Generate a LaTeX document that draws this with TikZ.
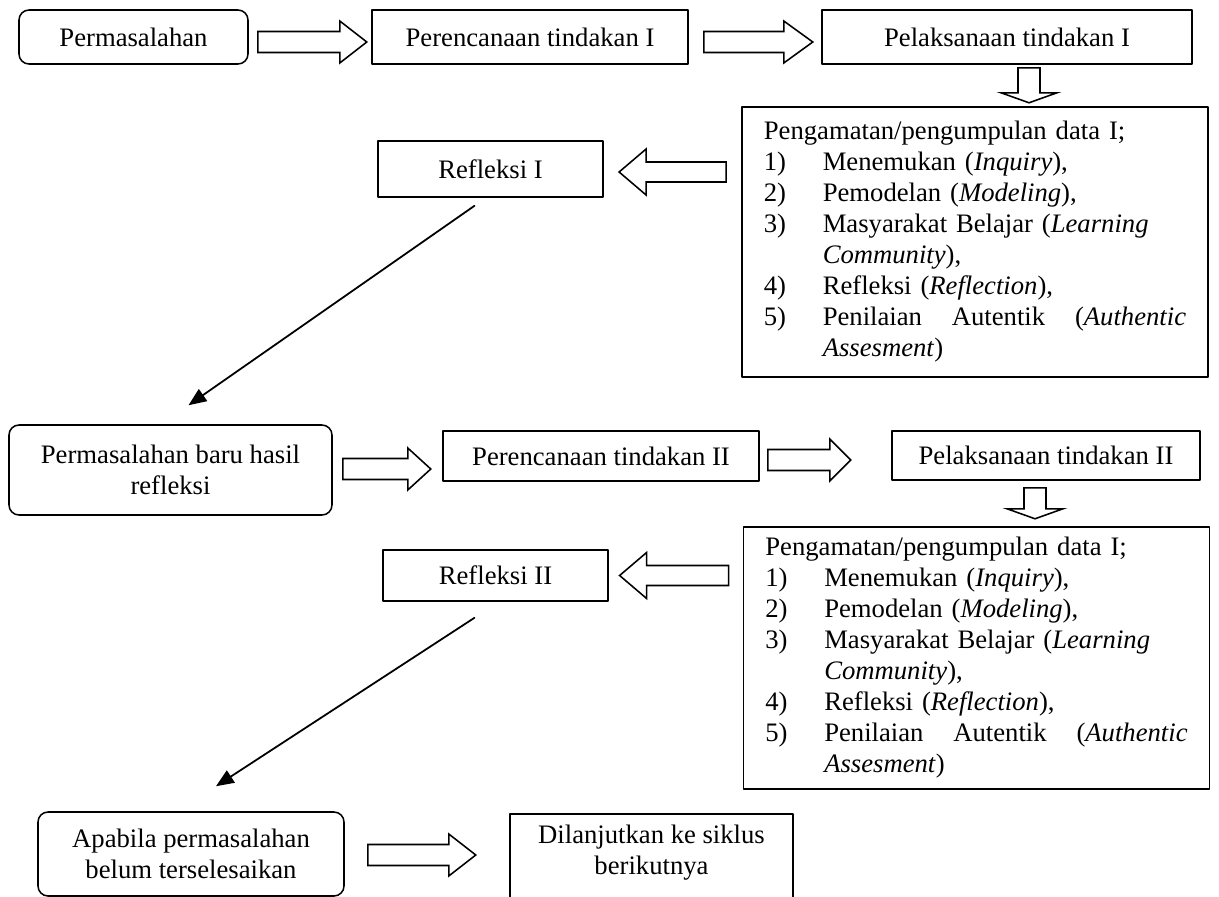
\documentclass[tikz,border=0pt]{standalone}
\usepackage{fontspec}
\setmainfont{Liberation Serif}
\usetikzlibrary{calc,arrows.meta}
\newcommand{\pxl}{0.45pt}
\newcommand{\obsnum}[1]{\makebox[26.5pt][l]{#1}}
\newcommand{\obslist}{Pengamatan/pengumpulan data I;\\
\obsnum{1)}Menemukan (\textit{Inquiry}),\\
\obsnum{2)}Pemodelan (\textit{Modeling}),\\
\obsnum{3)}Masyarakat Belajar (\textit{Learning}\\
\obsnum{}\textit{Community}),\\
\obsnum{4)}Refleksi (\textit{Reflection}),\\
\obsnum{5)}Penilaian\hfill Autentik\hfill (\textit{Authentic}\\
\obsnum{}\textit{Assesment})}
% tail, angle, length, head length, half shaft, half head
\newcommand{\blockarr}[6]{%
\draw[blockline,shift={#1},rotate=#2] (0,-#5) -- (#3-#4,-#5) -- (#3-#4,-#6) -- (#3,0) -- (#3-#4,#6) -- (#3-#4,#5) -- (0,#5) -- cycle;}
\tikzset{
stepbox/.style={draw,line width=0.7pt,inner sep=0pt,align=center,font=\fontsize{12}{13.95}\selectfont},
roundbox/.style={stepbox,rounded corners=4.5pt},
obsbox/.style={stepbox,align=left,text width=190pt,inner xsep=9.9pt},
blockline/.style={line width=0.7pt,line join=miter},
diagline/.style={->,line width=0.8pt}
}
\begin{document}
\begin{tikzpicture}[x=0.45pt,y=-0.45pt,line cap=round,line join=round,>={Triangle[length=8pt,width=6.5pt]}]
\useasboundingbox (0,0) rectangle (1219,897);
\clip (0,0) rectangle (1219,897);
% siklus I
\node[roundbox,minimum width=229*\pxl,minimum height=54*\pxl] (perm1) at (133.5,37) {Permasalahan};
\node[stepbox,minimum width=316*\pxl,minimum height=54*\pxl] (renc1) at (530,37) {Perencanaan tindakan I};
\node[stepbox,minimum width=370*\pxl,minimum height=54*\pxl] (plak1) at (1007,37) {Pelaksanaan tindakan I};
\node[obsbox,minimum height=270*\pxl] (amat1) at (975,242) {\obslist};
\node[stepbox,minimum width=225*\pxl,minimum height=56*\pxl] (refl1) at (490.5,169) {Refleksi I};
\blockarr{($(perm1.east)+(9,5)$)}{0}{109}{27}{10.5}{21}
\blockarr{($(renc1.east)+(15,5)$)}{0}{109}{29}{10.5}{21}
\blockarr{($(plak1.south)+(22,3)$)}{-90}{35}{10}{11}{28}
\blockarr{($(amat1.west |- refl1.east)+(-15,3)$)}{180}{107}{27}{10}{23}
\coordinate (r1s) at ($(refl1.south)+(-16,8)$);
% siklus II
\node[roundbox,minimum width=323*\pxl,minimum height=90*\pxl] (baru) at (170.5,470) {Permasalahan baru hasil\\refleksi};
\coordinate (b1n) at ($(baru.north)+(18,-19)$);
\draw[diagline] (r1s) -- (b1n);
\node[stepbox,minimum width=316*\pxl,minimum height=50*\pxl] (renc2) at (601,456) {Perencanaan tindakan II};
\node[stepbox,minimum width=308*\pxl,minimum height=49*\pxl] (plak2) at (1046,455.5) {Pelaksanaan tindakan II};
\node[obsbox,minimum height=262*\pxl] (amat2) at (976.5,658) {\obslist};
\node[stepbox,minimum width=225*\pxl,minimum height=51*\pxl] (refl2) at (495.5,575.5) {Refleksi II};
\blockarr{($(baru.east)+(10,-1)$)}{0}{88}{23}{10.5}{21}
\blockarr{($(renc2.east)+(8,4)$)}{0}{83}{21}{10.5}{21}
\blockarr{($(plak2.south)+(-11,7)$)}{-90}{31}{10}{11}{28}
\blockarr{($(amat2.west |- refl2.east)+(-14,0)$)}{180}{109}{27}{10}{23}
\coordinate (r2s) at ($(refl2.south)+(-21,16)$);
% lanjut
\node[roundbox,minimum width=306*\pxl,minimum height=84*\pxl] (apab) at (191,854) {Apabila permasalahan\\belum terselesaikan};
\coordinate (a2n) at ($(apab.north)+(25,-25)$);
\draw[diagline] (r2s) -- (a2n);
\node[stepbox,draw=none,minimum width=281*\pxl,minimum height=75*\pxl] (dilan) at (651.5,852.5) {Dilanjutkan ke siklus\\berikutnya};
\draw[line width=0.7pt] ([yshift=-10pt]dilan.south west) -- (dilan.north west) -- (dilan.north east) -- ([yshift=-10pt]dilan.south east);
\blockarr{($(apab.east)+(23,1)$)}{0}{108}{27}{10.5}{21}
\end{tikzpicture}
\end{document}
